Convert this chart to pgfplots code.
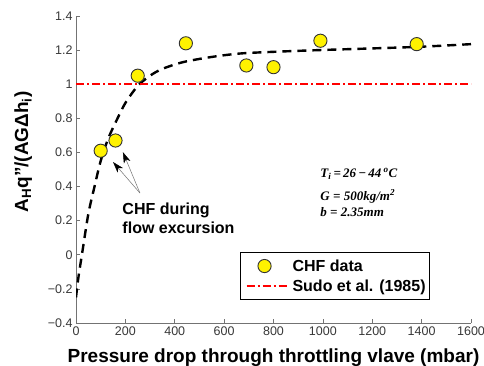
\documentclass[border=0pt]{standalone}
\usepackage{pgfplots}
\pgfplotsset{compat=1.18}
\usepackage{fontspec}
\setmainfont{Liberation Sans}
\newfontfamily\timesf{Liberation Serif}
\usetikzlibrary{arrows.meta}
\pgfplotsset{
 chflegend/.style={legend image code/.code={\path[draw=none,fill=none] (-4pt,0pt) -- (44pt,0pt);\draw[##1] plot coordinates {(18pt,0pt)};}},
 linelegend/.style={legend image code/.code={\path[draw=none,fill=none] (-4pt,0pt) -- (44pt,0pt);\draw[##1] (0pt,0pt) -- (40pt,0pt);}},
}
\begin{document}
\begin{tikzpicture}
\useasboundingbox (0,0) rectangle (484pt,365pt);
\begin{axis}[
 at={(76pt,42pt)}, anchor=south west,
 scale only axis, width=395pt, height=307pt,
 xmin=0, xmax=1600, ymin=-0.4, ymax=1.4,
 axis x line*=bottom, axis y line*=left,
 axis line style={black!55, line width=0.6pt},
 tick align=inside, major tick length=4pt,
 tick style={black!55, line width=0.6pt},
 xtick={0,200,...,1600},
 ytick={-0.4,-0.2,0,0.2,0.4,0.6,0.8,1,1.2,1.4},
 yticklabels={−0.4,−0.2,0,0.2,0.4,0.6,0.8,1,1.2,1.4},
 scaled x ticks=false,
 /pgf/number format/1000 sep={},
 /pgf/number format/assume math mode=true,
 tick label style={font=\fontsize{12.5}{14}\selectfont, text=black!78},
 xlabel={Pressure drop through throttling vlave (mbar)},
 ylabel={A\textsubscript{H}q"/(AGΔh\textsubscript{i})},
 label style={font=\fontsize{19}{22}\selectfont\bfseries},
 xlabel style={at={(axis description cs:0.5,0)}, anchor=base, yshift=-39pt},
 ylabel style={at={(axis description cs:-0.1215,0.557)}, anchor=base},
 legend style={at={(0.896,0.075)}, anchor=south east, draw=black, line width=0.6pt,
   font=\fontsize{16}{18}\selectfont\bfseries, row sep=3pt, inner xsep=2pt, inner ysep=5pt},
 legend cell align=left,
]
\addplot[black, line width=2.4pt, dash pattern=on 9pt off 6pt, smooth, forget plot] coordinates {
 (0,-0.25) (10,-0.13) (25,0.01) (50,0.24) (75,0.40) (100,0.55) (130,0.68) (165,0.79)
 (200,0.89) (250,0.99) (300,1.05) (350,1.09) (435,1.13) (550,1.16) (664,1.18)
 (800,1.19) (983,1.20) (1200,1.21) (1400,1.22) (1600,1.235)};
\addplot[red, line width=1.6pt, dash pattern=on 8pt off 3pt on 2pt off 3pt, forget plot] coordinates {(0,1) (1600,1)};
\addplot[only marks, mark=*, mark size=6.6pt, mark options={fill=yellow, draw=black!80, line width=0.9pt},
  chflegend] coordinates {
 (100,0.61) (160,0.67) (250,1.05) (445,1.24) (690,1.11) (800,1.10) (990,1.255) (1380,1.235)};
\addlegendentry{CHF data}
\addlegendimage{red, line width=1.6pt, dash pattern=on 8pt off 3pt on 2pt off 3pt, linelegend}
\addlegendentry{Sudo et al. (1985)}
\node[anchor=west, align=left, font=\fontsize{16}{19}\selectfont\bfseries] at (axis cs:174,0.2125) {CHF during\\flow excursion};
\node[anchor=base west, font=\fontsize{13}{15}\selectfont\timesf\bfseries\itshape] at (axis cs:976,0.456) {T\textsubscript{i}\,=\,26\,−\,44\,\textsuperscript{o}C};
\node[anchor=base west, font=\fontsize{13}{15}\selectfont\timesf\bfseries\itshape] at (axis cs:976,0.321) {G = 500kg/m\textsuperscript{2}};
\node[anchor=base west, font=\fontsize{13}{15}\selectfont\timesf\bfseries\itshape] at (axis cs:976,0.227) {b = 2.35mm};
\draw[black!55, line width=0.5pt, -{Stealth[length=11pt,width=7pt,inset=3pt,black]}] (axis cs:259,0.362) -- (axis cs:150,0.544);
\draw[black!55, line width=0.5pt, -{Stealth[length=11pt,width=7pt,inset=3pt,black]}] (axis cs:259,0.362) -- (axis cs:190,0.602);
\end{axis}
\end{tikzpicture}
\end{document}
